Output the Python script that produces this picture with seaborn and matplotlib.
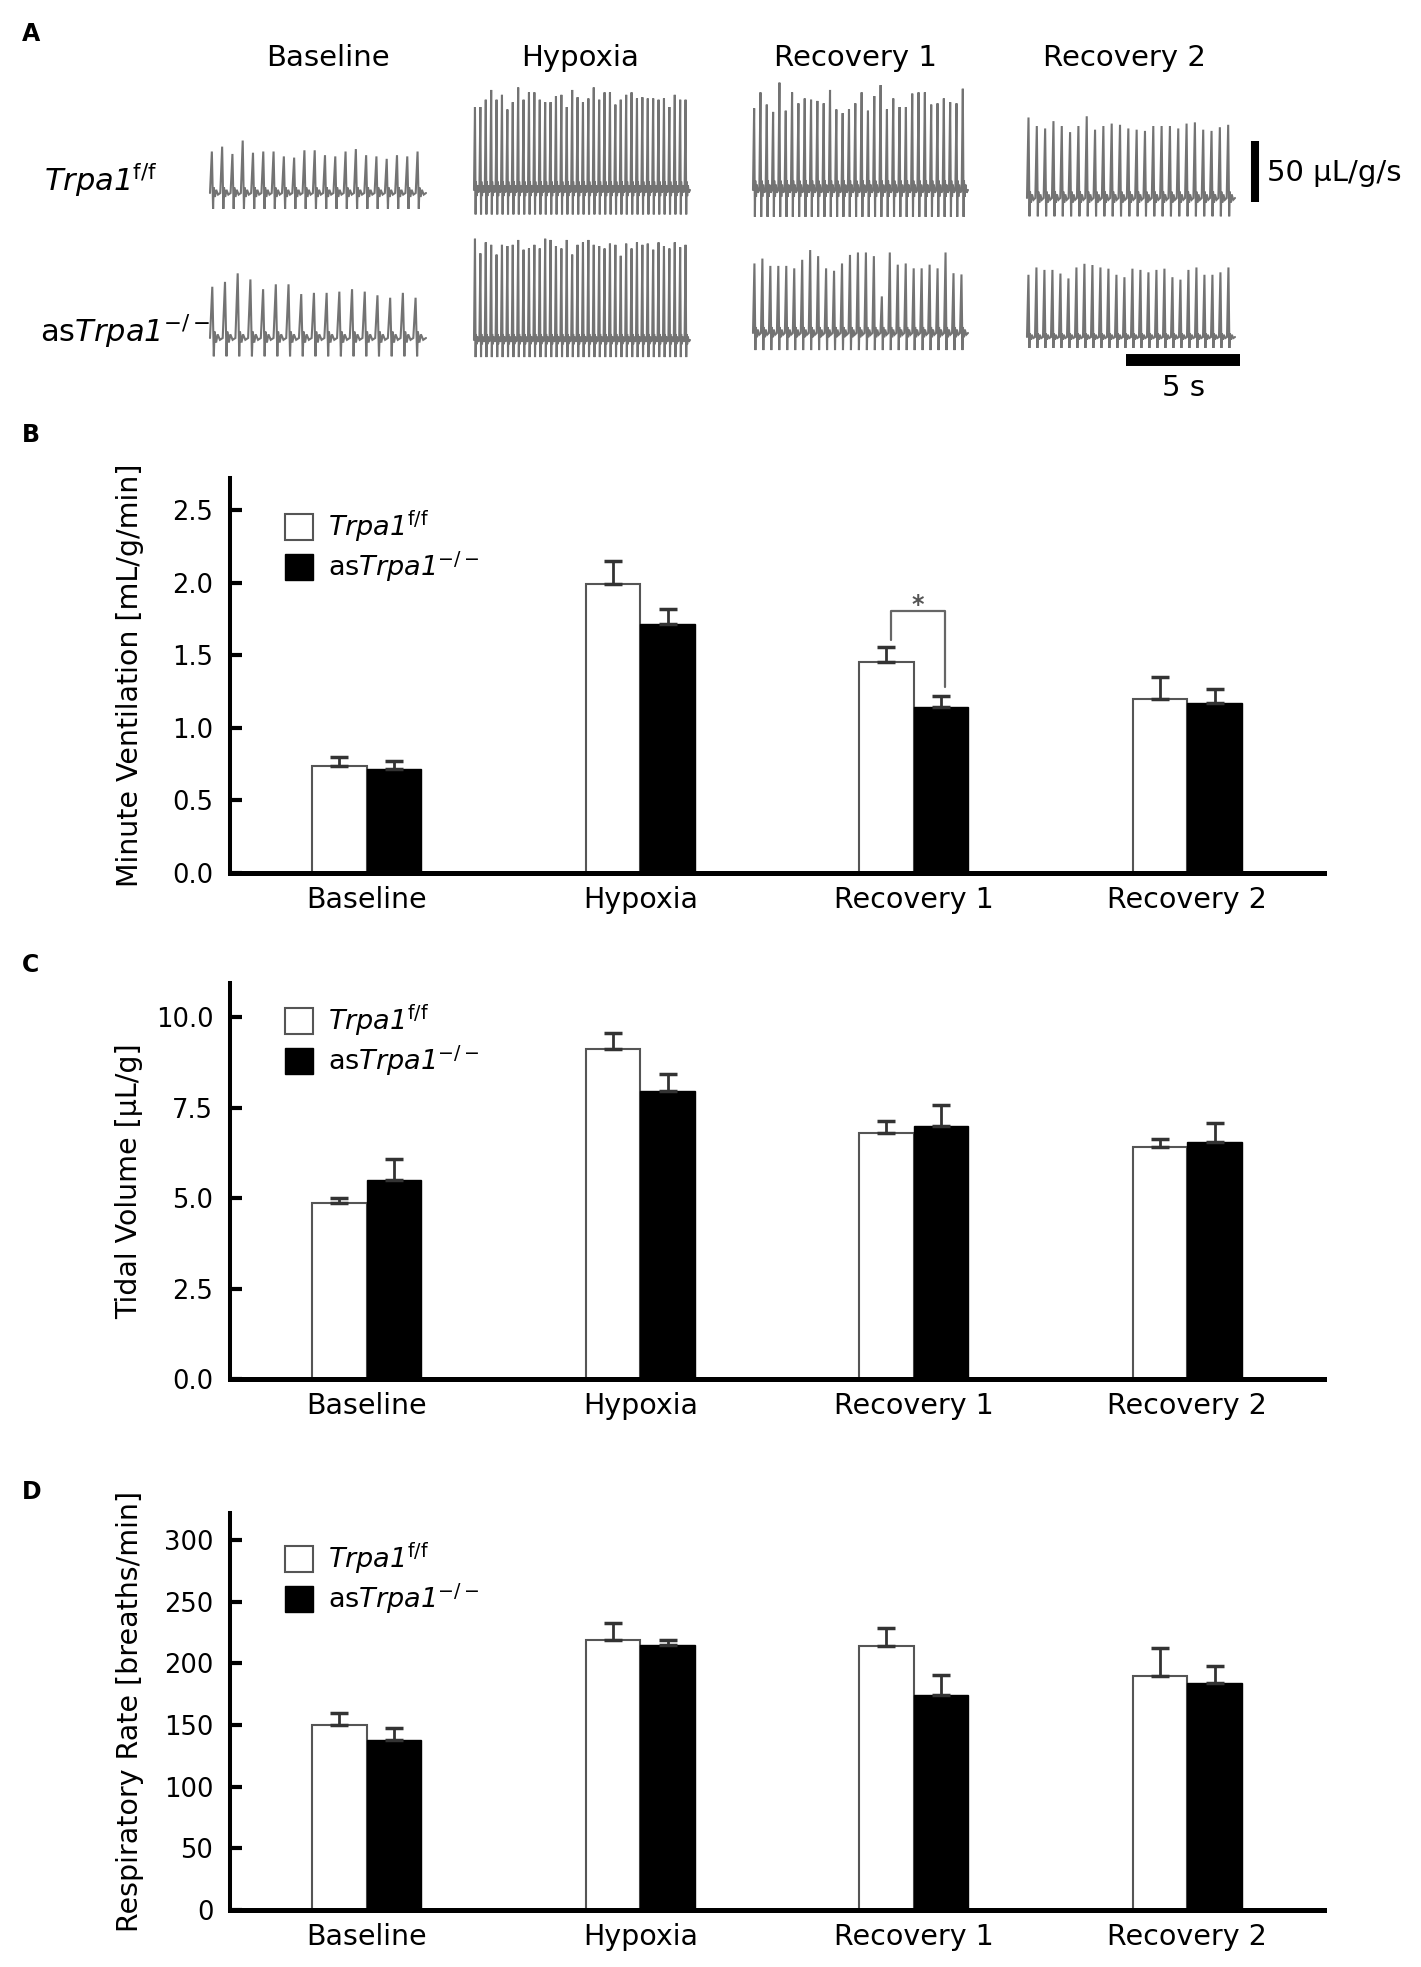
"""
Trpa1 hypoxic ventilation figure (A: flow traces, B-D: group means)
"""

import numpy as np
import pandas as pd
import matplotlib
matplotlib.use('Agg')
import matplotlib.pyplot as plt
from matplotlib.patches import Patch
from matplotlib.ticker import FormatStrFormatter
import seaborn as sns

W, H = 1421, 1967

PHASES = ['Baseline', 'Hypoxia', 'Recovery 1', 'Recovery 2']
GENOTYPES = ['ff', 'ko']

# B: minute ventilation [mL/g/min], mean and SEM
mv_ff = [0.74, 1.99, 1.455, 1.20]
mv_ff_sem = [0.057, 0.16, 0.10, 0.15]
mv_ko = [0.717, 1.716, 1.142, 1.174]
mv_ko_sem = [0.055, 0.105, 0.08, 0.093]

# C: tidal volume [uL/g]
tv_ff = [4.86, 9.12, 6.80, 6.40]
tv_ff_sem = [0.13, 0.45, 0.34, 0.23]
tv_ko = [5.50, 7.97, 7.00, 6.56]
tv_ko_sem = [0.58, 0.46, 0.58, 0.52]

# D: respiratory rate [breaths/min]
rr_ff = [150, 219, 214, 189.5]
rr_ff_sem = [9.8, 14, 15, 23.4]
rr_ko = [138, 215, 174.6, 183.8]
rr_ko_sem = [10, 4, 16.4, 14]

# A: peak inspiratory flow of each breath [uL/g/s] and typical trough depth
trace_ff_baseline = [34, 38, 32, 43, 33, 34, 34, 30, 29, 35, 35, 31, 30, 34, 36, 31, 30, 28, 31, 30, 34]
trace_ff_hypoxia = [68, 68, 74, 82, 74, 78, 66, 72, 84, 74, 80, 80, 74, 72, 72, 77, 78, 68, 82, 76,
                    72, 75, 84, 74, 80, 80, 70, 74, 78, 80, 75, 76, 75, 75, 74, 75, 68, 78, 74, 74]
trace_ff_rec1 = [67, 80, 70, 64, 88, 65, 80, 71, 75, 74, 73, 71, 82, 66, 63, 66, 71,
                 80, 65, 77, 86, 66, 75, 68, 68, 79, 80, 80, 70, 71, 75, 72, 71, 83]
trace_ff_rec2 = [66, 59, 57, 63, 59, 54, 59, 67, 56, 59, 61, 60, 57,
                 56, 55, 59, 59, 59, 57, 61, 62, 56, 55, 58, 60]
trace_ko_baseline = [42, 46, 53, 48, 40, 44, 44, 36, 37, 37, 38, 40, 38, 35, 33, 37, 33]
trace_ko_hypoxia = [83, 71, 80, 78, 70, 78, 77, 78, 82, 74, 75, 78, 75, 83, 82, 77, 75, 82, 70, 78,
                    80, 82, 78, 77, 75, 79, 78, 69, 79, 75, 80, 78, 79, 74, 80, 77, 75, 80, 76, 78]
trace_ko_rec1 = [57, 61, 55, 55, 55, 53, 60, 68, 63, 53, 51, 57, 64, 66,
                 66, 63, 30, 66, 56, 57, 53, 53, 56, 53, 66, 49, 48]
trace_ko_rec2 = [51, 57, 55, 55, 52, 48, 57, 60, 59, 57, 56, 51, 49,
                 56, 55, 53, 55, 56, 49, 47, 55, 57, 51, 51, 53, 57]
trough_ff = [13, 20, 22, 15]
trough_ko = [15, 14, 14, 9]

sns.set_style('white', {'axes.edgecolor': 'black', 'text.color': 'black',
                        'axes.labelcolor': 'black', 'xtick.color': 'black',
                        'ytick.color': 'black'})
plt.rcParams['font.family'] = ['DejaVu Sans']
plt.rcParams['mathtext.fontset'] = 'dejavusans'

LABEL_FF = r'Trpa1$^{\mathrm{f/f}}$'
LABEL_KO = r'$\mathrm{as}$Trpa1$^{\mathrm{-/-}}$'

fig = plt.figure(figsize=(W / 100, H / 100), dpi=100)


def px(x, y):
    return x / W, 1 - y / H


# ---------------- panel A ----------------
axA = fig.add_axes([0, 1 - 400 / H, 1, 400 / H])
axA.set_xlim(0, W)
axA.set_ylim(400, 0)
axA.axis('off')

K = 61 / 50.0  # px per uL/g/s (scale bar)


def draw_trace(ax, peaks, trough, x0, x1, ybase):
    n = len(peaks)
    step = (x1 - x0) / n
    xs, ys = [], []
    for i, p in enumerate(peaks):
        t = x0 + i * step
        xs += [t, t + 0.18 * step, t + 0.3 * step, t + 0.36 * step, t + 0.48 * step,
               t + 0.6 * step, t + 0.78 * step]
        ys += [ybase, ybase - p * K, ybase + trough * K, ybase - 0.35 * trough * K,
               ybase + 0.25 * trough * K, ybase - 0.2 * trough * K, ybase + 0.1 * trough * K]
    xs.append(x1)
    ys.append(ybase)
    ax.plot(xs, ys, color='#737373', lw=1.5, solid_joinstyle='miter')


spans = [(210, 426), (474, 690), (753, 968), (1027, 1235)]
base_ff = [193, 190, 190, 198]
base_ko = [338, 340, 333, 337]
ff_traces = [trace_ff_baseline, trace_ff_hypoxia, trace_ff_rec1, trace_ff_rec2]
ko_traces = [trace_ko_baseline, trace_ko_hypoxia, trace_ko_rec1, trace_ko_rec2]
for i in range(4):
    draw_trace(axA, ff_traces[i], trough_ff[i], spans[i][0], spans[i][1], base_ff[i])
    draw_trace(axA, ko_traces[i], trough_ko[i], spans[i][0], spans[i][1], base_ko[i])

for name, xc in zip(PHASES, [328, 580, 856, 1124]):
    axA.text(xc, 58, name, ha='center', va='center', fontsize=21)

axA.text(44, 180, LABEL_FF, ha='left', va='center', fontsize=22, fontstyle='italic')
axA.text(40, 332, LABEL_KO, ha='left', va='center', fontsize=22, fontstyle='italic')

axA.plot([1255, 1255], [141, 202], color='black', lw=5.8, solid_capstyle='butt')
axA.text(1267, 173, '50 µL/g/s', ha='left', va='center', fontsize=21)
axA.plot([1126, 1240], [360, 360], color='black', lw=8.6, solid_capstyle='butt')
axA.text(1184, 388, '5 s', ha='center', va='center', fontsize=21)

# ---------------- panels B-D ----------------
panels = [
    ('B', 873, 478, 2.72, mv_ff, mv_ff_sem, mv_ko, mv_ko_sem,
     'Minute Ventilation [mL/g/min]', np.arange(0, 2.6, 0.5), '%.1f', 0.922),
    ('C', 1379, 983, 10.94, tv_ff, tv_ff_sem, tv_ko, tv_ko_sem,
     'Tidal Volume [µL/g]', np.arange(0, 10.1, 2.5), '%.1f', 0.95),
    ('D', 1910, 1513, 322, rr_ff, rr_ff_sem, rr_ko, rr_ko_sem,
     'Respiratory Rate [breaths/min]', np.arange(0, 301, 50), '%d', 0.93),
]
letter_y = {'A': 34, 'B': 435, 'C': 965, 'D': 1492}
fig.text(*px(22, letter_y['A']), 'A', fontsize=17, fontweight='bold', va='center', ha='left')

for letter, y0, y1, ymax, ff, ff_sem, ko, ko_sem, ylabel, yticks, fmt, leg_y in panels:
    ax = fig.add_axes([230 / W, 1 - y0 / H, 1094 / W, (y0 - y1) / H])
    df = pd.DataFrame({
        'phase': PHASES * 2,
        'genotype': ['ff'] * 4 + ['ko'] * 4,
        'value': ff + ko,
        'sem': ff_sem + ko_sem,
    })
    sns.barplot(data=df, x='phase', y='value', hue='genotype', order=PHASES,
                hue_order=GENOTYPES, palette=['white', 'black'], width=0.4,
                errorbar=None, legend=False, ax=ax)

    centers = {}
    for cont, g, ec, lw in zip(ax.containers, GENOTYPES, ['#555555', 'black'], [1.5, 1.0]):
        sub = df[df['genotype'] == g]
        xs = []
        for bar in cont:
            bar.set_edgecolor(ec)
            bar.set_linewidth(lw)
            xs.append(bar.get_x() + bar.get_width() / 2)
        centers[g] = xs
        ax.errorbar(xs, sub['value'], yerr=[np.zeros(4), sub['sem']], fmt='none',
                    ecolor='#333333', elinewidth=2.0, capsize=6.5, capthick=2.5, zorder=1)

    ax.set_xlim(-0.5, 3.5)
    ax.set_ylim(0, ymax)
    ax.set_yticks(yticks)
    ax.yaxis.set_major_formatter(FormatStrFormatter(fmt))
    ax.set_xlabel('')
    ax.set_ylabel(ylabel, fontsize=20.5)
    ax.yaxis.set_label_coords(-0.079, 0.5)
    ax.tick_params(axis='y', direction='in', length=8.5, width=3, labelsize=18.5, pad=12, left=True)
    ax.tick_params(axis='x', length=0, labelsize=20.5, pad=9)
    sns.despine(ax=ax)
    ax.spines['left'].set_linewidth(2.9)
    ax.spines['bottom'].set_linewidth(3.6)

    handles = [Patch(facecolor='white', edgecolor='#555555', lw=1.5),
               Patch(facecolor='black', edgecolor='black')]
    ax.legend(handles, [LABEL_FF, LABEL_KO], loc='upper left', bbox_to_anchor=(0.05, leg_y),
              frameon=False, prop={'size': 19.5, 'style': 'italic'}, borderpad=0,
              borderaxespad=0, handlelength=1.05, handleheight=1.1, handletextpad=0.55,
              labelspacing=0.15)

    if letter == 'B':
        # significance bracket Recovery 1
        xl = centers['ff'][2] + 0.015
        xr = centers['ko'][2] + 0.015
        ax.plot([xl, xl, xr, xr], [1.605, 1.807, 1.807, 1.284], color='#666666', lw=1.6)
        ax.text((xl + xr) / 2, 1.80, '*', ha='center', va='baseline', fontsize=17,
                fontweight='bold', color='#555555')

    fig.text(*px(22, letter_y[letter]), letter, fontsize=17, fontweight='bold', va='center', ha='left')

fig.savefig('out.png', dpi=100)
plt.close(fig)
